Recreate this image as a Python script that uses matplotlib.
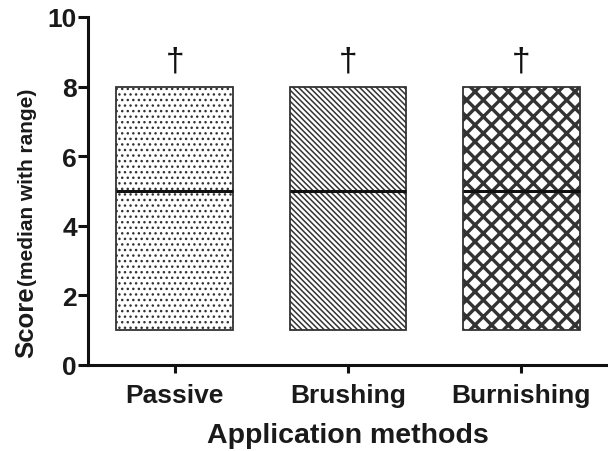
import matplotlib
matplotlib.use("Agg")
import matplotlib.pyplot as plt

# --- data ---
methods = ["Passive", "Brushing", "Burnishing"]
score_min = [1, 1, 1]
score_median = [5, 5, 5]
score_max = [8, 8, 8]
marks = ["\u2020", "\u2020", "\u2020"]
y_ticks = [0, 2, 4, 6, 8, 10]

# --- styles ---
hatches = ["...", "\\\\\\\\\\\\", "xx"]
hatch_widths = [1.0, 1.1, 2.4]
hatch_colors = ['#444444', '#222222', '#111111']

plt.rcParams['font.family'] = ['Liberation Sans', 'DejaVu Sans']
plt.rcParams['font.weight'] = 'bold'

fig = plt.figure(figsize=(6.08, 4.52), dpi=100)
ax = fig.add_axes([88 / 608, 86 / 452, 1 - 88 / 608, (366 - 18) / 452])

x = list(range(len(methods)))
for i in x:
    with plt.rc_context({'hatch.linewidth': hatch_widths[i],
                         'hatch.color': hatch_colors[i]}):
        bar = ax.bar(x[i], score_max[i] - score_min[i], bottom=score_min[i],
                     width=0.674, color='white', edgecolor='#333333',
                     linewidth=1.3, hatch=hatches[i], zorder=2)
    for p in bar:
        try:
            p.set_hatch_linewidth(hatch_widths[i])
        except AttributeError:
            pass
    # median line
    ax.hlines(score_median[i], x[i] - 0.337, x[i] + 0.337,
              color='#111111', linewidth=2.2, zorder=3)
    # significance mark
    ax.text(x[i], 8.5, marks[i], ha='center', va='baseline',
            fontsize=24, fontweight='normal', color='#111111')

ax.set_xlim(-0.5, 2.5)
ax.set_ylim(0, 10)
ax.set_yticks(y_ticks)
ax.set_xticks(x)
ax.set_xticklabels(methods, fontsize=19, fontweight='bold', color='#1a1a1a')
ax.set_yticklabels([str(t) for t in y_ticks], fontsize=19,
                   fontweight='bold', color='#1a1a1a')

for side in ['top', 'right']:
    ax.spines[side].set_visible(False)
for side in ['left', 'bottom']:
    ax.spines[side].set_linewidth(2.2)
    ax.spines[side].set_color('#111111')
ax.tick_params(axis='y', length=7, width=2.2, pad=1, color='#111111')
ax.tick_params(axis='x', length=6, width=2.2, pad=7, color='#111111')

ax.set_xlabel("Application methods", fontsize=20.5, fontweight='bold',
              color='#1a1a1a', labelpad=11)

# y label: large "Score" followed by a smaller note
fig.text(33 / 608, (452 - 358) / 452, "Score", rotation=90,
         rotation_mode='anchor', ha='left', va='baseline',
         fontsize=18.5, fontweight='bold', color='#1a1a1a')
fig.text(33 / 608, (452 - 286) / 452, "(median with range)", rotation=90,
         rotation_mode='anchor', ha='left', va='baseline',
         fontsize=15, fontweight='bold', color='#1a1a1a')

fig.savefig("out.png", dpi=100)
